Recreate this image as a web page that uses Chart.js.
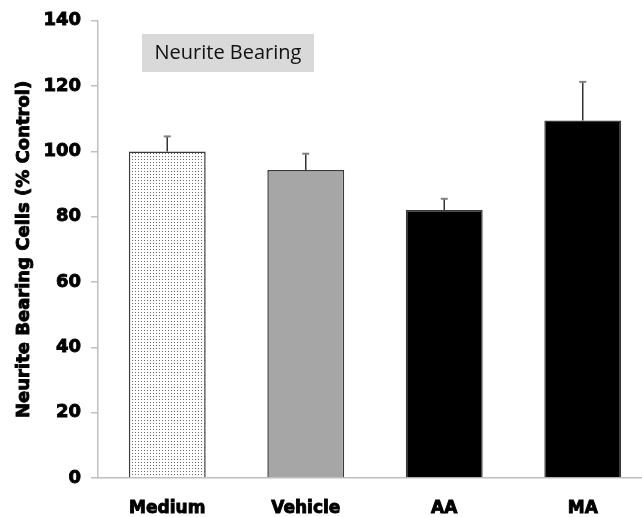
<!DOCTYPE html>
<html>
<head>
<meta charset="utf-8">
<script src="https://cdn.jsdelivr.net/npm/chart.js@4/dist/chart.umd.min.js"></script>
<style>
  html, body { margin: 0; padding: 0; background: #fff; overflow: hidden; }
  #wrap { width: 642px; height: 517px; overflow: hidden; }
</style>
</head>
<body>
<div id="wrap"><canvas id="chart" width="652" height="517"></canvas></div>
<script>
// valores
const categories = ['Medium', 'Vehicle', 'AA', 'MA'];
const values = [100, 94.3, 82.1, 109.5];
const errors = [4.6, 5.0, 3.4, 11.8];
const yTicks = [0, 20, 40, 60, 80, 100, 120, 140];
const yTitle = 'Neurite Bearing Cells (% Control)';
const boxText = 'Neurite Bearing';

// patron punteado para la barra Medium
function dotPattern() {
  const c = document.createElement('canvas');
  c.width = 3; c.height = 3;
  const g = c.getContext('2d');
  g.fillStyle = '#ffffff';
  g.fillRect(0, 0, 3, 3);
  g.fillStyle = '#6a6a6a';
  g.fillRect(0, 0, 1, 1);
  return g.createPattern(c, 'repeat');
}

const ctx = document.getElementById('chart').getContext('2d');
const heavy = '"DejaVu Sans", "Liberation Sans", Arial, sans-serif';

// barras de error (solo hacia arriba)
const errorBars = {
  id: 'errorBars',
  afterDatasetsDraw(chart) {
    const meta = chart.getDatasetMeta(0);
    const y = chart.scales.y;
    const c = chart.ctx;
    c.save();
    meta.data.forEach((bar, i) => {
      const top = y.getPixelForValue(values[i] + errors[i]);
      c.strokeStyle = '#333333';
      c.lineWidth = 1.5;
      c.beginPath();
      c.moveTo(bar.x, bar.y);
      c.lineTo(bar.x, top);
      c.stroke();
      c.strokeStyle = '#808080';
      c.lineWidth = 2;
      c.beginPath();
      c.moveTo(bar.x - 3.5, top);
      c.lineTo(bar.x + 3.5, top);
      c.stroke();
    });
    c.restore();
  }
};

// titulo del eje y (mas grueso) y recuadro gris con texto
const extras = {
  id: 'extras',
  afterDraw(chart) {
    const c = chart.ctx;
    const area = chart.chartArea;
    c.save();
    c.translate(24, (area.top + area.bottom) / 2);
    c.rotate(-Math.PI / 2);
    c.font = 'bold 18px ' + heavy;
    c.textAlign = 'center';
    c.textBaseline = 'middle';
    c.fillStyle = '#000';
    c.strokeStyle = '#000';
    c.lineWidth = 0.9;
    c.fillText(yTitle, 0, 0);
    c.strokeText(yTitle, 0, 0);
    c.restore();

    c.save();
    c.fillStyle = '#d9d9d9';
    c.fillRect(142, 34, 172, 38);
    c.fillStyle = '#111111';
    c.font = '20px "Open Sans", "Liberation Sans", sans-serif';
    c.textAlign = 'center';
    c.textBaseline = 'middle';
    c.fillText(boxText, 228, 53);
    c.restore();
  }
};

new Chart(ctx, {
  type: 'bar',
  data: {
    labels: categories,
    datasets: [{
      data: values,
      backgroundColor: [dotPattern(), '#a6a6a6', '#000000', '#000000'],
      borderColor: '#3a3a3a',
      borderWidth: 1.5,
      borderSkipped: 'bottom',
      barPercentage: 0.555,
      categoryPercentage: 1
    }]
  },
  options: {
    responsive: false,
    animation: false,
    layout: { padding: { top: 15, right: 0, left: 0, bottom: 0 } },
    plugins: { legend: { display: false }, tooltip: { enabled: false } },
    scales: {
      x: {
        grid: { display: false },
        border: { color: '#bfbfbf', width: 1.5 },
        afterFit: (axis) => { axis.height = 39; },
        ticks: {
          color: '#000',
          padding: 12,
          textStrokeColor: '#000',
          textStrokeWidth: 0.9,
          font: { family: heavy, size: 17, weight: 'bold' }
        }
      },
      y: {
        min: 0,
        max: 140,
        afterBuildTicks: (axis) => { axis.ticks = yTicks.map(v => ({ value: v })); },
        afterFit: (axis) => { axis.width = 98; },
        grid: { drawOnChartArea: false, drawTicks: true, tickLength: 7, color: '#bfbfbf', lineWidth: 1.5 },
        border: { color: '#bfbfbf', width: 1.5 },
        ticks: {
          color: '#000',
          padding: 10,
          textStrokeColor: '#000',
          textStrokeWidth: 0.9,
          font: { family: heavy, size: 18, weight: 'bold' }
        }
      }
    }
  },
  plugins: [errorBars, extras]
});
</script>
</body>
</html>
